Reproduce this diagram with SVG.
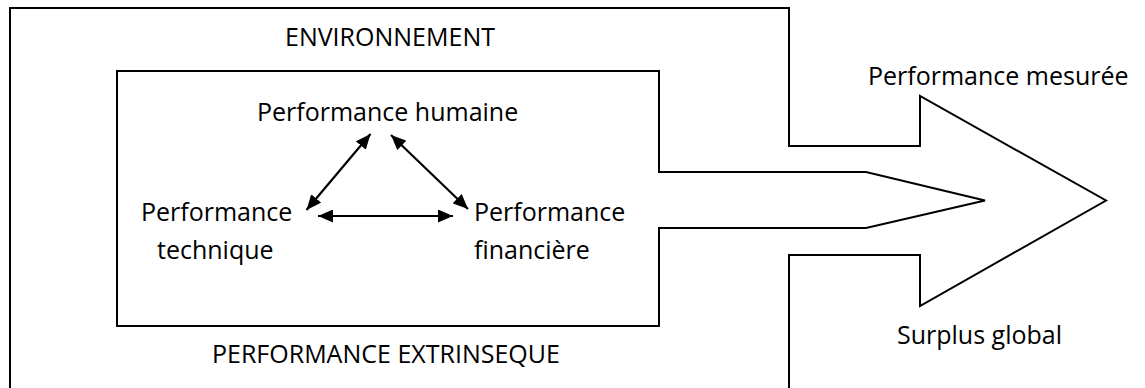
<svg xmlns="http://www.w3.org/2000/svg" width="1145" height="388" viewBox="0 0 1145 388">
<style>
.t{font-family:"Open Sans","Noto Sans","Liberation Sans",sans-serif;font-size:25px;fill:#000}
.ln{fill:none;stroke:#000;stroke-width:2;stroke-linejoin:miter}
.ar{fill:none;stroke:#000;stroke-width:2.2;marker-start:url(#ah);marker-end:url(#ah)}
</style>
<defs>
<marker id="ah" viewBox="0 0 15 13" refX="15" refY="6.5" markerWidth="15" markerHeight="13" markerUnits="userSpaceOnUse" orient="auto-start-reverse">
<path d="M0,0 L15,6.5 L0,13 z" fill="#000"/>
</marker>
</defs>
<g id="environnement">
<path class="ln" d="M10,390 L10,8 L789,8 L789,146 L920,146 L920,96 L1106,200.5 L920,306 L920,255 L789,255 L789,390"/>
<text class="t" x="285" y="46">ENVIRONNEMENT</text>
<text class="t" x="868" y="85">Performance mesurée</text>
<text class="t" x="897" y="344">Surplus global</text>
</g>
<g id="performance-extrinseque">
<path class="ln" d="M659,71 L659,172 L866,172 L985,200.5 L866,228 L659,228 L659,326 L117,326 L117,71 Z"/>
<text class="t" x="212" y="363">PERFORMANCE EXTRINSEQUE</text>
</g>
<g id="humaine"><text class="t" x="257" y="121">Performance humaine</text></g>
<g id="technique"><text class="t" x="141" y="221">Performance</text><text class="t" x="157" y="259">technique</text></g>
<g id="financiere"><text class="t" x="474" y="221">Performance</text><text class="t" x="474" y="259">financière</text></g>
<g id="connectors">
<line class="ar" x1="306.5" y1="210" x2="370.5" y2="134"/>
<line class="ar" x1="391" y1="135" x2="468" y2="209"/>
<line class="ar" x1="318" y1="216" x2="453" y2="216"/>
</g>
</svg>
